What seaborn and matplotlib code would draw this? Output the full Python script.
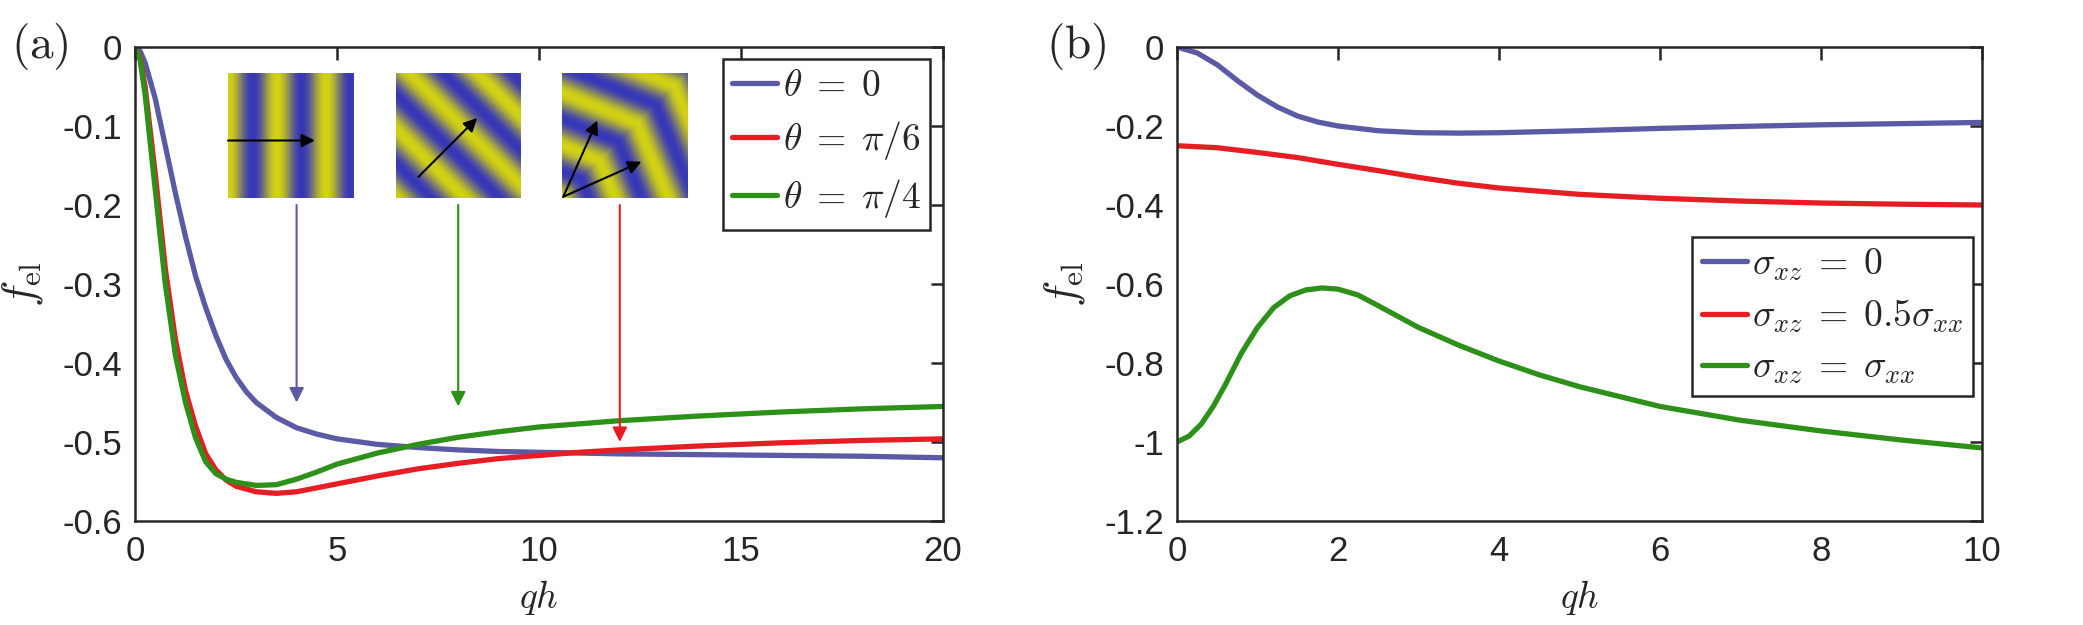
import numpy as np
import pandas as pd
import matplotlib
matplotlib.use("Agg")
import matplotlib.pyplot as plt
import seaborn as sns
from matplotlib.colors import LinearSegmentedColormap

# ---- panel (a) data: f_el vs qh for three stripe orientations
qh_a0 = [0, 0.125, 0.25, 0.5, 0.75, 1.0, 1.25, 1.5, 1.75, 2.0, 2.25, 2.5, 2.75, 3.0, 3.5, 4.0, 4.5, 5, 6, 7, 8, 9,
         10, 12, 14, 16, 18, 20]
f_theta0 = [0, -0.005, -0.02, -0.065, -0.125, -0.185, -0.24, -0.29, -0.33, -0.365, -0.395, -0.418, -0.436, -0.45,
            -0.469, -0.482, -0.49, -0.496, -0.503, -0.507, -0.51, -0.512, -0.513, -0.515, -0.516, -0.517, -0.518, -0.52]

qh_a1 = [0, 0.125, 0.25, 0.5, 0.75, 1.0, 1.25, 1.5, 1.75, 2.0, 2.25, 2.5, 3.0, 3.5, 4.0, 4.5, 5, 6, 7, 8, 9, 10, 11,
         12, 14, 16, 18, 20]
f_theta1 = [0, -0.013, -0.05, -0.16, -0.28, -0.37, -0.435, -0.48, -0.515, -0.535, -0.548, -0.556, -0.563, -0.565,
            -0.563, -0.558, -0.553, -0.543, -0.534, -0.527, -0.521, -0.517, -0.513, -0.51, -0.505, -0.501, -0.498, -0.496]

qh_a2 = [0, 0.125, 0.25, 0.5, 0.75, 1.0, 1.25, 1.5, 1.75, 2.0, 2.25, 2.5, 3.0, 3.5, 4.0, 4.5, 5, 6, 7, 8, 9, 10, 11,
         12, 14, 16, 18, 20]
f_theta2 = [0, -0.016, -0.06, -0.18, -0.3, -0.39, -0.45, -0.495, -0.525, -0.54, -0.547, -0.551, -0.555, -0.554,
            -0.547, -0.538, -0.528, -0.514, -0.503, -0.494, -0.487, -0.481, -0.477, -0.473, -0.467, -0.462, -0.458, -0.455]

labels_a = [r'$\theta\;=\;0$', r'$\theta\;=\;\pi/6$', r'$\theta\;=\;\pi/4$']

# ---- panel (b) data: f_el vs qh for three shear stresses
qh_b0 = [0, 0.25, 0.5, 0.75, 1.0, 1.25, 1.5, 1.75, 2.0, 2.5, 3.0, 3.5, 4.0, 5, 6, 7, 8, 9, 10]
f_sig0 = [0, -0.015, -0.045, -0.085, -0.122, -0.152, -0.175, -0.19, -0.2, -0.212, -0.217, -0.218, -0.217,
          -0.212, -0.206, -0.201, -0.197, -0.194, -0.191]

qh_b1 = [0, 0.5, 1.0, 1.5, 2.0, 2.5, 3.0, 3.5, 4.0, 5, 6, 7, 8, 9, 10]
f_sig1 = [-0.25, -0.255, -0.267, -0.28, -0.297, -0.313, -0.33, -0.345, -0.357, -0.373, -0.383, -0.39, -0.395, -0.398, -0.40]

qh_b2 = [0, 0.15, 0.3, 0.45, 0.6, 0.8, 1.0, 1.2, 1.4, 1.6, 1.8, 2.0, 2.25, 2.5, 3.0, 3.5, 4.0, 4.5, 5, 6, 7, 8, 9, 10]
f_sig2 = [-1.0, -0.985, -0.955, -0.91, -0.855, -0.775, -0.71, -0.66, -0.63, -0.615, -0.61, -0.613, -0.628, -0.655,
          -0.71, -0.755, -0.795, -0.83, -0.86, -0.91, -0.945, -0.972, -0.995, -1.015]

labels_b = [r'$\sigma_{xz}\;=\;0$', r'$\sigma_{xz}\;=\;0.5\sigma_{xx}$', r'$\sigma_{xz}\;=\;\sigma_{xx}$']

xticks_a = [0, 5, 10, 15, 20]
yticks_a = [0, -0.1, -0.2, -0.3, -0.4, -0.5, -0.6]
ytick_labels_a = ['0', '-0.1', '-0.2', '-0.3', '-0.4', '-0.5', '-0.6']
xticks_b = [0, 2, 4, 6, 8, 10]
yticks_b = [0, -0.2, -0.4, -0.6, -0.8, -1.0, -1.2]
ytick_labels_b = ['0', '-0.2', '-0.4', '-0.6', '-0.8', '-1', '-1.2']

# arrows from the insets down to the curves
arrow_x = [4, 8, 12]
arrow_tip = [-0.45, -0.455, -0.50]

colors = ['#5a5aa5', '#e61e23', '#2d9119']
arrow_colors = ['#5a5aa5', '#2d9119', '#e61e23']

sns.set_theme(style='white')
plt.rcParams['font.family'] = ['Liberation Sans', 'DejaVu Sans']
plt.rcParams['mathtext.fontset'] = 'cm'
plt.rcParams['axes.unicode_minus'] = False

W, H = 2083, 625
fig = plt.figure(figsize=(W / 100, H / 100), dpi=100)

def px_axes(x0, y0, x1, y1):
    return fig.add_axes([x0 / W, 1 - y1 / H, (x1 - x0) / W, (y1 - y0) / H])

axA = px_axes(135, 47, 943, 521)
axB = px_axes(1177, 47, 1982, 521)

for x, y, c, lab in zip([qh_a0, qh_a1, qh_a2], [f_theta0, f_theta1, f_theta2], colors, labels_a):
    sns.lineplot(x=x, y=y, ax=axA, color=c, lw=3.8, label=lab, sort=False, estimator=None)
for x, y, c, lab in zip([qh_b0, qh_b1, qh_b2], [f_sig0, f_sig1, f_sig2], colors, labels_b):
    sns.lineplot(x=x, y=y, ax=axB, color=c, lw=3.8, label=lab, sort=False, estimator=None)

def style(ax, xt, yt, ytl, xmax, ymin):
    ax.set_xlim(0, xmax)
    ax.set_ylim(ymin, 0)
    ax.set_xticks(xt)
    ax.set_xticklabels([str(v) for v in xt])
    ax.set_yticks(yt)
    ax.set_yticklabels(ytl)
    for s in ax.spines.values():
        s.set_visible(True)
        s.set_linewidth(1.8)
        s.set_color('#262626')
    ax.tick_params(direction='in', length=9, width=1.8, top=True, right=True,
                   labelsize=25, color='#262626', labelcolor='#262626')
    ax.tick_params(axis='x', pad=10)
    ax.tick_params(axis='y', pad=9)
    ax.set_xlabel(r'$qh$', fontsize=27)
    ax.set_ylabel(r'$f_{\rm el}$', fontsize=32)
    ax.xaxis.set_label_coords(0.5, -0.12)
    ax.yaxis.set_label_coords(-0.112, 0.5)

style(axA, xticks_a, yticks_a, ytick_labels_a, 20, -0.6)
style(axB, xticks_b, yticks_b, ytick_labels_b, 10, -1.2)

leg_kw = dict(fontsize=27, frameon=True, fancybox=False, framealpha=1, edgecolor='#262626',
              borderaxespad=0, borderpad=0.25, handlelength=1.2, handletextpad=0.15, labelspacing=0.4)
legA = axA.legend(loc='upper right', bbox_to_anchor=(0.984, 0.975), **leg_kw)
legB = axB.legend(loc='lower right', bbox_to_anchor=(0.989, 0.264), **leg_kw)
for leg in (legA, legB):
    leg.get_frame().set_linewidth(1.8)

for xa, ya, c in zip(arrow_x, arrow_tip, arrow_colors):
    axA.annotate('', xy=(xa, ya), xytext=(xa, -0.2),
                 arrowprops=dict(arrowstyle='-|>', color=c, lw=1.5, mutation_scale=22, shrinkA=0, shrinkB=0))

# ---- stripe insets
cmap = LinearSegmentedColormap.from_list('by', ['#3737b9', '#d2d214'])
g = np.linspace(0, 1, 200)
X, Y = np.meshgrid(g, g)
period = 0.39
k = 2 * np.pi / period
phi1 = np.deg2rad(67.5)
phi2 = np.deg2rad(22.5)
patterns = [
    np.cos(k * X),
    np.cos(k * (X + Y) / np.sqrt(2)),
    np.cos(k * np.maximum(X * np.cos(phi1) + Y * np.sin(phi1), X * np.cos(phi2) + Y * np.sin(phi2))),
]
inset_px = [(228, 73, 354, 198), (396, 73, 521, 198), (562, 73, 688, 198)]
inset_arrows = [
    [((0.0, 0.46), (0.69, 0.46))],
    [((0.18, 0.17), (0.65, 0.64))],
    [((0.01, 0.01), (0.28, 0.62)), ((0.01, 0.01), (0.63, 0.29))],
]
for box, pat, arrs in zip(inset_px, patterns, inset_arrows):
    ia = px_axes(*box)
    ia.imshow(pat, cmap=cmap, origin='lower', extent=(0, 1, 0, 1), vmin=-1, vmax=1, aspect='auto')
    ia.axis('off')
    for start, end in arrs:
        ia.annotate('', xy=end, xytext=start,
                    arrowprops=dict(arrowstyle='-|>', color='black', lw=1.5, mutation_scale=20,
                                    shrinkA=0, shrinkB=0))

fig.text(40 / W, 1 - 46 / H, r'$\mathrm{(a)}$', fontsize=34, ha='center', va='center')
fig.text(1076 / W, 1 - 46 / H, r'$\mathrm{(b)}$', fontsize=34, ha='center', va='center')

fig.savefig('out.png', dpi=100)
